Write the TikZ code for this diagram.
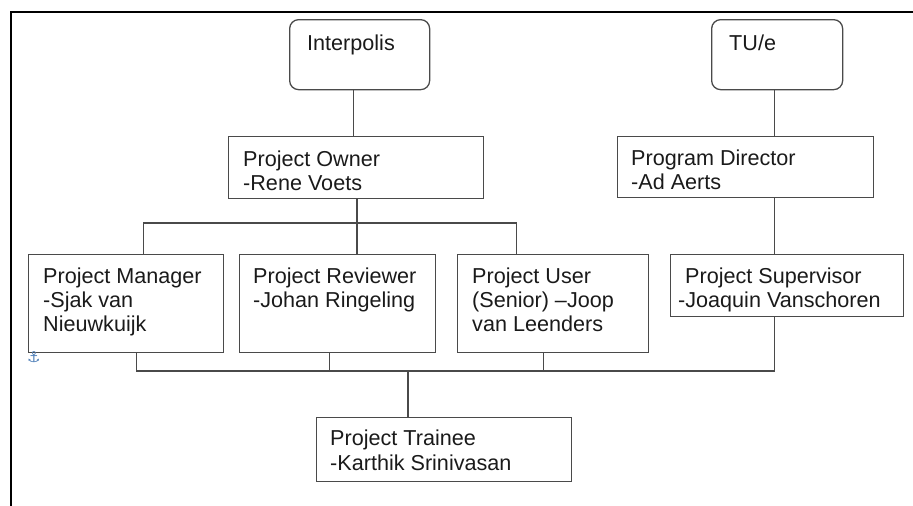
\documentclass[tikz,border=0pt]{standalone}
\usepackage{fontspec}
\setmainfont{Liberation Sans}
\newfontfamily\symfont{DejaVu Sans}
\definecolor{boxline}{HTML}{4A4A4A}
\definecolor{txtcol}{HTML}{1A1A1A}
\definecolor{anchorblue}{HTML}{4F7FB8}
\begin{document}
\begin{tikzpicture}[x=1pt,y=-1pt,
  orgbox/.style={draw=boxline,line width=1.3pt,minimum width=#1,inner sep=0,anchor=north west},
  roundbox/.style={draw=boxline,line width=1.3pt,rounded corners=9pt,inner sep=0,anchor=north west,minimum width=#1},
  txt/.style={anchor=north west,inner sep=0,align=left,text=txtcol,font=\fontsize{21.6}{24}\selectfont},
  link/.style={draw=boxline,line width=1.3pt}]
\useasboundingbox (0,0) rectangle (913,506);
% page frame
\draw[line width=2.6pt,black] (11,506) -- (11,12) -- (913,12);
% boxes
\node[roundbox=140pt,minimum height=70pt] (interp) at (289,19) {};
\node[roundbox=131pt,minimum height=70pt] (tue) at (711,19) {};
\node[orgbox=255pt,minimum height=62pt] (owner) at (228,136) {};
\node[orgbox=256pt,minimum height=61pt] (director) at (617,136) {};
\node[orgbox=195pt,minimum height=98pt] (manager) at (28,254) {};
\node[orgbox=196pt,minimum height=98pt] (reviewer) at (239,254) {};
\node[orgbox=191pt,minimum height=98pt] (user) at (457,254) {};
\node[orgbox=233pt,minimum height=62pt] (supervisor) at (670,254) {};
\node[orgbox=255pt,minimum height=64pt] (trainee) at (316,417) {};
% texts
\node[txt] (interp-t) at (307,35) {Interpolis};
\node[txt] (tue-t) at (729,35) {TU/e};
\node[txt] (owner-t) at (243,151) {Project Owner\\-Rene Voets};
\node[txt] (director-t) at (631,150) {Program Director\\-Ad Aerts};
\node[txt] (manager-t) at (43,268) {Project Manager\\-Sjak van\\Nieuwkuijk};
\node[txt] (reviewer-t) at (253,268) {Project Reviewer\\-Johan Ringeling};
\node[txt] (user-t) at (472,268) {Project User\\(Senior) –Joop\\van Leenders};
\node[txt] (supervisor-t) at (678,268) {\hspace*{7pt}Project Supervisor\\-Joaquin Vanschoren};
\node[txt,font=\fontsize{21.6}{25}\selectfont] (trainee-t) at (330,430) {Project Trainee\\-Karthik Srinivasan};
\node[anchor=north west,inner sep=0,text=anchorblue,font=\symfont\fontsize{15}{15}\selectfont] (anch) at (27,351) {⚓};
% bus coordinates
\coordinate (bus1) at (357,223);
\coordinate (bus2) at (408,371);
% connectors
\draw[link] ([xshift=-6pt]interp.south) -- ([xshift=-6pt]interp.south |- owner.north);
\draw[link] ([xshift=-2.5pt]tue.south) -- ([xshift=-2.5pt]tue.south |- director.north);
\draw[link] ([xshift=-2.5pt]tue.south |- director.south) -- ([xshift=-2.5pt]tue.south |- supervisor.north);
\draw[link] (bus1 |- owner.south) -- (bus1 |- reviewer.north);
\draw[link] ([xshift=17.5pt]manager.north) |- (bus1) -| ([xshift=-36.5pt]user.north);
\draw[link] ([xshift=10.5pt]manager.south) |- (bus2) -| ([xshift=-12.5pt]supervisor.south);
\draw[link] ([xshift=-8pt]reviewer.south) -- ([xshift=-8pt]reviewer.south |- bus2);
\draw[link] ([xshift=-9.5pt]user.south) -- ([xshift=-9.5pt]user.south |- bus2);
\draw[link] (bus2) -- (bus2 |- trainee.north);
\end{tikzpicture}
\end{document}
